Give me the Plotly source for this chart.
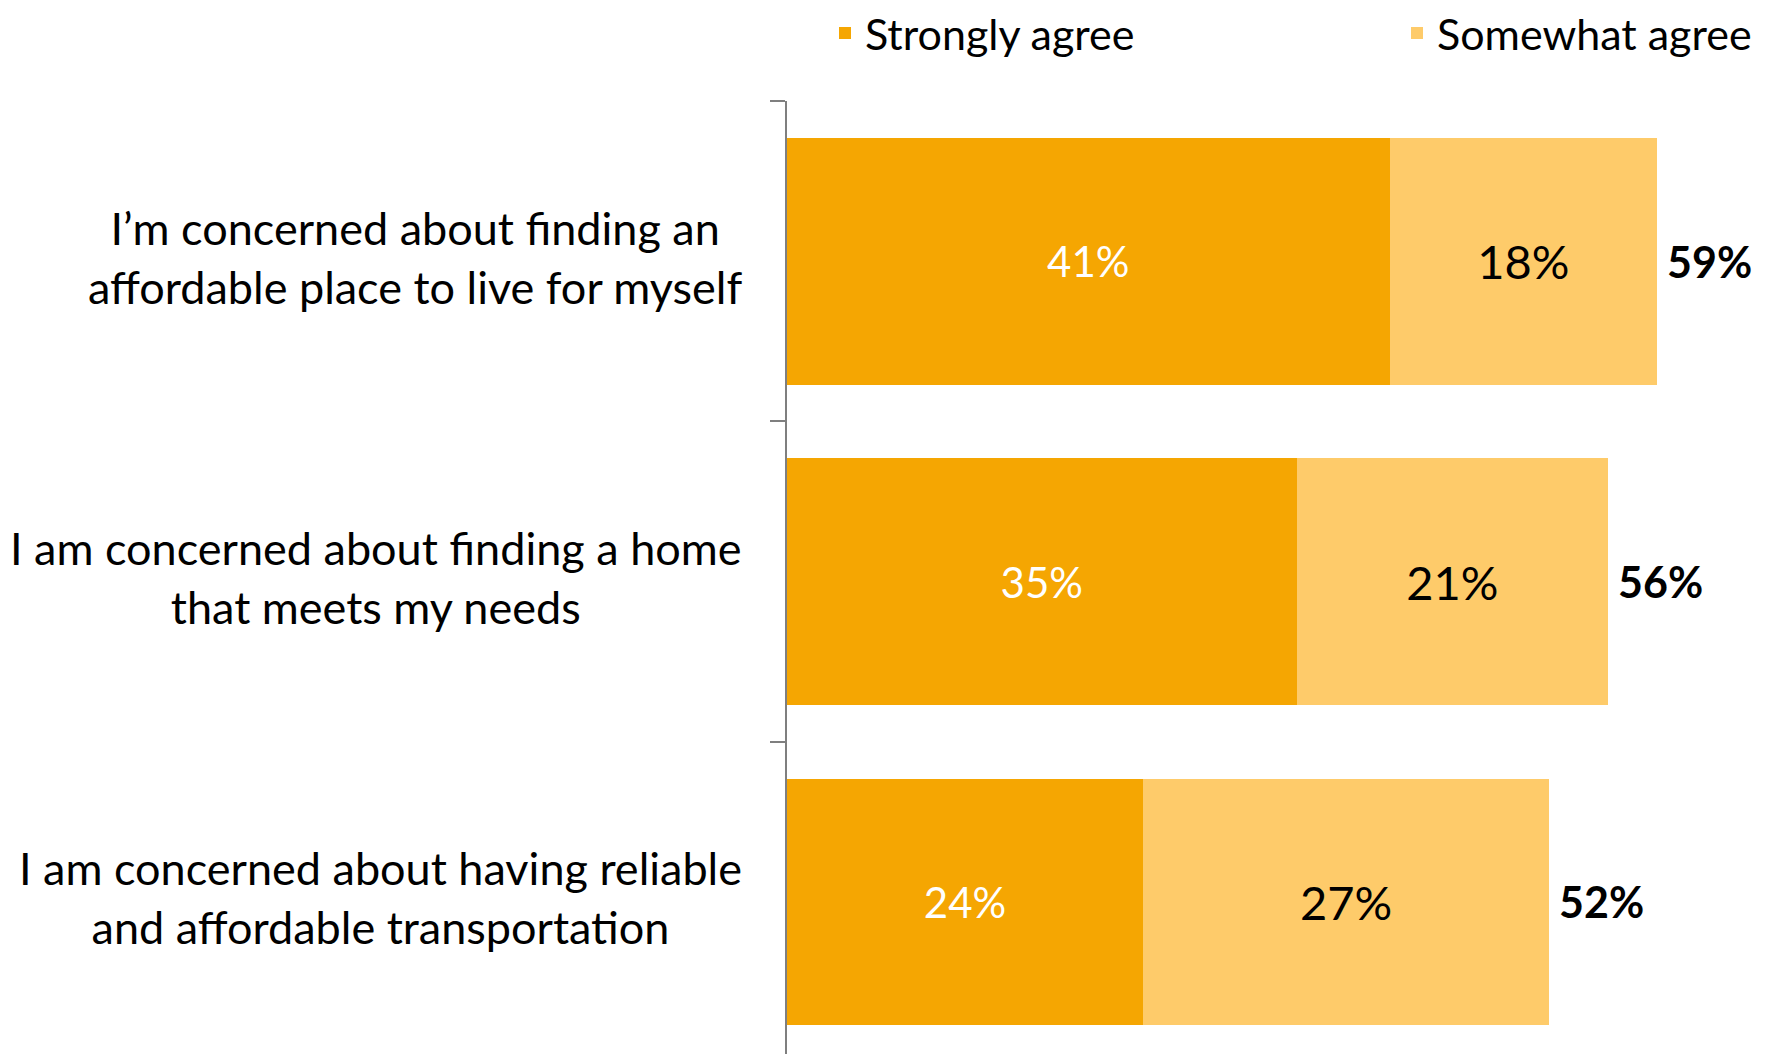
import plotly.graph_objects as go

# ---- data ----
categories = [
    "I\u2019m concerned about finding an<br>affordable place to live for myself",
    "I am concerned about finding a home<br>that meets my needs",
    "I am concerned about having reliable<br>and affordable transportation",
]
strongly_agree = [40.8, 34.5, 24.1]
somewhat_agree = [18.1, 21.1, 27.5]
strongly_labels = ["41%", "35%", "24%"]
somewhat_labels = ["18%", "21%", "27%"]
total_labels = ["59%", "56%", "52%"]
series_names = ["Strongly agree", "Somewhat agree"]

# ---- styles ----
C_STRONG = "#F5A602"
C_SOME = "#FECB6A"
FONT = "Lato"
W, H = 1772, 1054
L_MARGIN, T_MARGIN = 779, 93
PX_PER_UNIT = 14.77
x_max = (W - L_MARGIN) / PX_PER_UNIT

ykeys = ["c0", "c1", "c2"]
totals_x = [a + b for a, b in zip(strongly_agree, somewhat_agree)]

fig = go.Figure()
fig.add_trace(go.Bar(
    y=ykeys, x=strongly_agree, orientation="h", name=series_names[0],
    marker=dict(color=C_STRONG, line=dict(width=0)),
    text=strongly_labels, textposition="inside", insidetextanchor="middle",
    textangle=0, textfont=dict(family=FONT, size=42, color="white"),
    legend="legend", hoverinfo="x+name",
))
fig.add_trace(go.Bar(
    y=ykeys, x=somewhat_agree, orientation="h", name=series_names[1],
    marker=dict(color=C_SOME, line=dict(width=0)),
    text=somewhat_labels, textposition="inside", insidetextanchor="middle",
    textangle=0, textfont=dict(family=FONT, size=47, color="black"),
    legend="legend2", hoverinfo="x+name",
))

# total labels at the end of each stacked bar
for k, tx, lab in zip(ykeys, totals_x, total_labels):
    fig.add_annotation(
        x=tx, xref="x", y=k, yref="y", text="<b>%s</b>" % lab, showarrow=False,
        xanchor="left", yanchor="middle", xshift=8,
        font=dict(family=FONT, size=43, color="black"),
    )

# category labels (centered multi-line text, right-aligned block)
for k, lab in zip(ykeys, categories):
    fig.add_annotation(
        x=-0.0433, xref="paper", y=k, yref="y", text=lab, showarrow=False,
        xanchor="right", yanchor="middle", align="center", yshift=4,
        font=dict(family=FONT, size=45, color="black"),
    )

leg_y = 1 - 25 / H
fig.update_layout(
    width=W, height=H,
    barmode="stack", bargap=0.23,
    margin=dict(l=L_MARGIN, r=0, t=T_MARGIN, b=0, pad=0, autoexpand=False),
    plot_bgcolor="white", paper_bgcolor="white",
    font=dict(family=FONT, color="black"),
    legend=dict(orientation="h", xref="container", yref="container",
                x=(857 - 40) / W, y=leg_y, xanchor="left", yanchor="middle",
                font=dict(family=FONT, size=43, color="black"),
                bgcolor="rgba(0,0,0,0)", borderwidth=0),
    legend2=dict(orientation="h", xref="container", yref="container",
                 x=(1429 - 40) / W, y=leg_y, xanchor="left", yanchor="middle",
                 font=dict(family=FONT, size=43, color="black"),
                 bgcolor="rgba(0,0,0,0)", borderwidth=0),
    xaxis=dict(range=[0, x_max], visible=False, fixedrange=True),
    yaxis=dict(
        type="category", categoryorder="array", categoryarray=ykeys,
        autorange="reversed", showticklabels=False, showgrid=False,
        showline=True, linecolor="#7F7F7F", linewidth=2,
        ticks="outside", tickson="boundaries", ticklen=15,
        tickcolor="#7F7F7F", tickwidth=2, zeroline=False,
    ),
    showlegend=True,
)

fig.write_html("out.html")
